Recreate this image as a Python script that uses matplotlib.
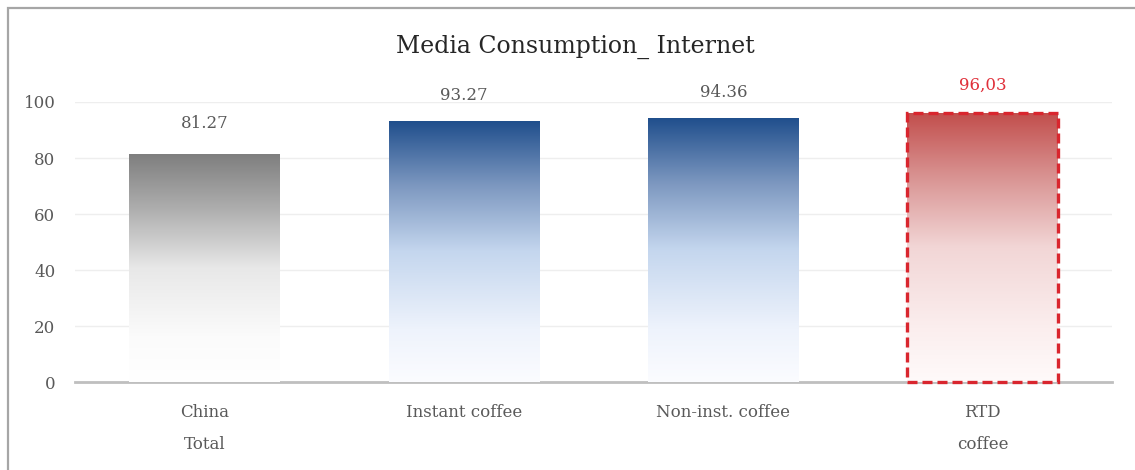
import numpy as np
import matplotlib
matplotlib.use("Agg")
import matplotlib.pyplot as plt
from matplotlib.colors import LinearSegmentedColormap
from matplotlib.patches import Rectangle

categories = ["China\nTotal", "Instant coffee", "Non-inst. coffee", "RTD\ncoffee"]
values = [81.27, 93.27, 94.36, 96.03]
value_labels = ["81.27", "93.27", "94.36", "96,03"]
yticks = [0, 20, 40, 60, 80, 100]
title = "Media Consumption_ Internet"

# gradient stops (bottom -> top) for each bar
gray_stops = [(0.0, "#ffffff"), (0.2, "#fbfbfb"), (0.5, "#e8e8e8"), (0.75, "#b0b0b0"), (1.0, "#7f7f7f")]
blue_stops = [(0.0, "#fbfcff"), (0.2, "#eef3fc"), (0.5, "#c4d6ee"), (0.75, "#7d98c0"), (1.0, "#1f4e8c")]
red_stops = [(0.0, "#fffafa"), (0.2, "#fbeeee"), (0.5, "#f2d6d6"), (0.75, "#da9796"), (1.0, "#c24f4d")]
bar_stops = [gray_stops, blue_stops, blue_stops, red_stops]

serif = ["DejaVu Serif"]


def main():
    fig = plt.figure(figsize=(11.35, 4.7), dpi=100)
    ax = fig.add_axes([0.066, 0.187, 0.914, 0.596])

    x = np.arange(len(values))
    width = 0.58
    bars = ax.bar(x, values, width=width, color="none", edgecolor="none", zorder=3)

    grad = np.linspace(0, 1, 256).reshape(-1, 1)
    for i, b in enumerate(bars):
        cmap = LinearSegmentedColormap.from_list("g%d" % i, bar_stops[i])
        x0, y0 = b.get_x(), b.get_y()
        w, h = b.get_width(), b.get_height()
        im = ax.imshow(grad, cmap=cmap, origin="lower", aspect="auto",
                       extent=[x0, x0 + w, y0, y0 + h], zorder=3, interpolation="bilinear")
        im.set_clip_path(b)

    # highlight the RTD bar with a dashed red frame
    hb = bars[-1]
    ax.add_patch(Rectangle((hb.get_x(), 0), hb.get_width(), hb.get_height(),
                           fill=False, edgecolor="#d9262e", linestyle=(0, (3, 1.5)),
                           linewidth=2.4, zorder=4, clip_on=False))

    offsets = [8, 6, 6, 7]
    for i, (v, lab) in enumerate(zip(values, value_labels)):
        color = "#e0303a" if i == len(values) - 1 else "#595959"
        ax.text(x[i], v + offsets[i], lab, ha="center", va="bottom", fontsize=12,
                color=color, family=serif)

    ax.set_xlim(-0.5, len(values) - 0.5)
    ax.set_ylim(0, 100)
    ax.set_yticks(yticks)
    ax.set_yticklabels([str(t) for t in yticks], family=serif, fontsize=12, color="#595959")
    ax.set_xticks(x)
    ax.set_xticklabels(categories, family=serif, fontsize=12, color="#595959", linespacing=2.1)
    ax.tick_params(axis="both", length=0)
    ax.tick_params(axis="x", pad=16)
    ax.tick_params(axis="y", pad=14)

    ax.grid(axis="y", color="#eeeeee", linewidth=1, zorder=0)
    ax.set_axisbelow(True)
    for s in ["top", "right", "left"]:
        ax.spines[s].set_visible(False)
    ax.spines["bottom"].set_color("#bfbfbf")
    ax.spines["bottom"].set_linewidth(2)
    ax.spines["bottom"].set_zorder(2)

    fig.text(0.507, 0.9, title, ha="center", va="center", fontsize=17,
             color="#262626", family=serif)

    # outer frame
    fig.add_artist(Rectangle((8 / 1135, -0.05), 1.5, 1 - 8 / 470 + 0.05,
                             transform=fig.transFigure, fill=False,
                             edgecolor="#a6a6a6", linewidth=1.6))

    fig.savefig("out.png", dpi=100)


if __name__ == "__main__":
    main()
